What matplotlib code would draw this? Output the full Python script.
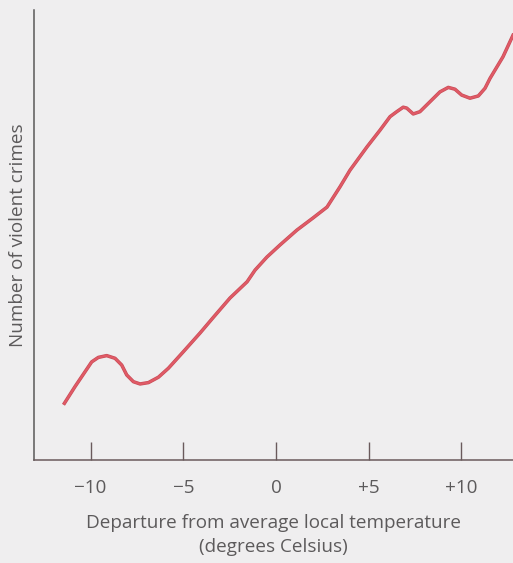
import matplotlib.pyplot as plt
import matplotlib.patheffects as pe

# Data (temperature departure vs. relative crime count)
temp = [-11.41, -10.84, -10.30, -9.94, -9.58, -9.13, -8.68, -8.32, -8.05, -7.69,
        -7.33, -6.88, -6.34, -5.80, -5.01, -4.10, -3.40, -2.48, -1.56, -1.13,
        -0.49, 0.22, 1.13, 2.00, 2.75, 3.45, 3.99, 4.91, 5.61, 6.15,
        6.51, 6.86, 7.05, 7.40, 7.76, 8.30, 8.84, 9.29, 9.65, 10.01,
        10.46, 10.91, 11.27, 11.54, 12.24, 12.78]
crimes = [12.6, 16.3, 19.6, 21.8, 22.8, 23.2, 22.6, 21.1, 18.9, 17.4,
          16.9, 17.2, 18.4, 20.4, 24.0, 28.2, 31.6, 36.0, 39.6, 42.2,
          45.1, 47.8, 51.1, 53.8, 56.2, 60.7, 64.4, 69.6, 73.3, 76.3,
          77.4, 78.4, 78.2, 76.9, 77.4, 79.6, 81.8, 82.8, 82.4, 81.1,
          80.4, 80.9, 82.6, 84.8, 89.6, 94.4]
tick_pos = [-10, -5, 0, 5, 10]
tick_labels = ["\u221210", "\u22125", "0", "+5", "+10"]

bg = "#efeeef"
text_col = "#5c5a5b"

plt.rcParams['font.family'] = ['Open Sans', 'DejaVu Sans']

fig = plt.figure(figsize=(5.13, 5.63), dpi=100, facecolor=bg)
ax = fig.add_axes([34 / 513, 103 / 563, 1 - 34 / 513, 450 / 563])
ax.set_facecolor(bg)

ax.plot(temp, crimes, color="#e05a66", lw=1.6, solid_joinstyle="round",
        path_effects=[pe.Stroke(linewidth=2.5, foreground="#c74c57"), pe.Normal()])

ax.set_xlim(-13.05, 12.78)
ax.set_ylim(0, 100)

for side in ["top", "right"]:
    ax.spines[side].set_visible(False)
ax.spines["left"].set_color("#5a5858")
ax.spines["bottom"].set_color("#6a5a5c")
ax.spines["left"].set_linewidth(1.1)
ax.spines["bottom"].set_linewidth(1.1)

ax.set_xticks(tick_pos)
ax.set_xticklabels(tick_labels)
ax.set_yticks([])
ax.tick_params(axis="x", direction="in", length=13, width=1.0, color="#6a5a5c",
               pad=14, labelsize=13.6, labelcolor=text_col)

ax.set_xlabel("Departure from average local temperature\n(degrees Celsius)",
              fontsize=13.6, color=text_col, labelpad=12, linespacing=1.45)
ax.set_ylabel("Number of violent crimes", fontsize=13.6, color=text_col, labelpad=5)

fig.savefig("out.png", dpi=100, facecolor=bg)
